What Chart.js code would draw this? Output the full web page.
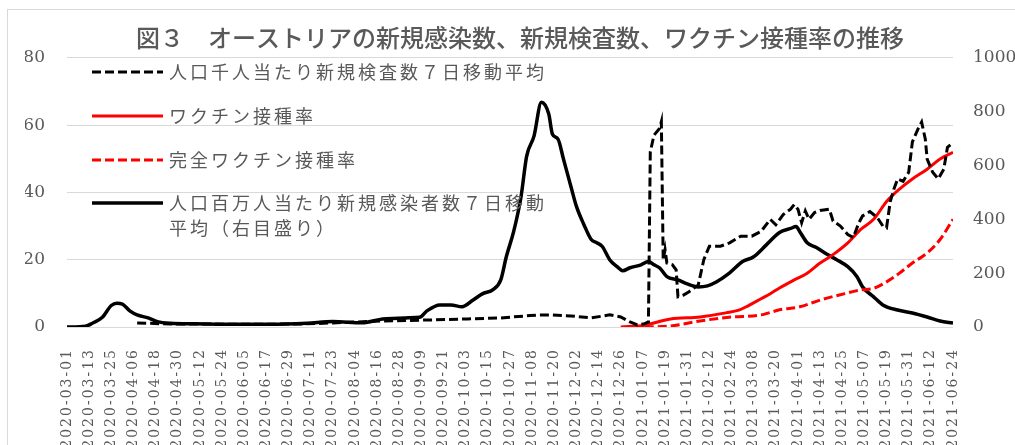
<!DOCTYPE html>
<html>
<head>
<meta charset="utf-8">
<script src="https://cdn.jsdelivr.net/npm/chart.js@4/dist/chart.umd.min.js"></script>
<style>
  html, body { margin: 0; padding: 0; background: #fff; }
  #wrap { position: relative; width: 1015px; height: 445px; overflow: hidden; }
</style>
</head>
<body>
<div id="wrap"><canvas id="chart"></canvas></div>
<script>
// ── data (x = days since 2020-03-01) ─────────────────────────────────
const titleText = "図３　オーストリアの新規感染数、新規検査数、ワクチン接種率の推移";

const tickLabels = [
  "2020-03-01", "2020-03-13", "2020-03-25", "2020-04-06", "2020-04-18", "2020-04-30",
  "2020-05-12", "2020-05-24", "2020-06-05", "2020-06-17", "2020-06-29", "2020-07-11",
  "2020-07-23", "2020-08-04", "2020-08-16", "2020-08-28", "2020-09-09", "2020-09-21",
  "2020-10-03", "2020-10-15", "2020-10-27", "2020-11-08", "2020-11-20", "2020-12-02",
  "2020-12-14", "2020-12-26", "2021-01-07", "2021-01-19", "2021-01-31", "2021-02-12",
  "2021-02-24", "2021-03-08", "2021-03-20", "2021-04-01", "2021-04-13", "2021-04-25",
  "2021-05-07", "2021-05-19", "2021-05-31", "2021-06-12", "2021-06-24",
];

// 人口千人当たり新規検査数７日移動平均 (left axis)
const testDays = [38, 56, 72, 99, 126, 144, 171, 198, 217, 235, 251, 256, 262, 273, 284, 294, 300, 305, 309, 313,
  315, 316, 318, 321, 322, 323, 324, 325, 328, 330, 331, 334, 337, 342, 345, 348, 354, 359, 365, 371,
  376, 381, 384, 388, 392, 394, 396, 398, 400, 402, 405, 408, 413, 415, 419, 423, 426, 429, 431, 435,
  439, 442, 444, 446, 448, 450, 453, 456, 458, 461, 463, 465, 466, 469, 472, 475, 477, 479];
const testValues = [1.2, 0.9, 0.9, 0.8, 0.9, 1.2, 1.8, 2.1, 2.4, 2.7, 3.4, 3.6, 3.6, 3.3, 2.7, 3.6, 3.0, 1.5, 0.6, 1.0,
  1.5, 52, 57, 59, 61, 20, 23, 19, 18.5, 17, 9, 9.5, 10.5, 12.5, 20, 24, 24, 25, 27, 27,
  28.4, 32, 30.4, 33.4, 35, 36.4, 35, 31, 34.5, 32, 34, 34.6, 35, 31.5, 30, 27.5, 26.6, 31, 33, 34.3,
  32.5, 30, 29.5, 37.3, 41, 44, 43.3, 46, 55, 58.8, 60.9, 55.8, 49.9, 46, 44, 46.9, 53.4, 54.3];

// ワクチン接種率 (left axis, %)
const vaxDays = [300, 313, 320, 327, 343, 357, 364, 369, 376, 381, 386, 394, 401, 408, 415, 423, 430, 437, 444, 451, 458, 466, 473, 480];
const vaxValues = [0, 0.5, 1.5, 2.4, 3.0, 4.2, 5.0, 6.3, 8.4, 9.9, 11.6, 14, 16, 19, 21.5, 25, 29, 32, 37.3, 41, 44, 46.9, 49.9, 51.9];

// 完全ワクチン接種率 (left axis, %)
const fullDays = [313, 327, 333, 343, 361, 366, 376, 379, 386, 397, 408, 419, 430, 437, 444, 451, 458, 466, 473, 480];
const fullValues = [0, 0.3, 0.8, 1.8, 3.0, 3.1, 3.6, 4.0, 5.1, 6.0, 8, 9.6, 11, 11.5, 13.4, 16, 19, 22, 26, 32];

// 人口百万人当たり新規感染者数７日移動平均 (right axis)
const caseDays = [0, 10, 14, 19, 24, 27, 30, 34, 38, 44, 49, 56, 70, 90, 110, 130, 144, 160, 171, 185,
  191, 195, 202, 208, 214, 220, 225, 231, 235, 238, 242, 246, 249, 253, 257, 261, 263, 266, 269, 273,
  276, 280, 284, 287, 290, 294, 298, 301, 305, 311, 315, 318, 321, 325, 331, 336, 342, 347, 352, 359,
  366, 372, 379, 386, 392, 395, 397, 401, 406, 412, 417, 423, 428, 431, 437, 442, 450, 458, 466, 473, 480];
const caseValues = [0, 3, 15, 35, 80, 88, 85, 60, 45, 34, 20, 14, 12, 10, 10, 14, 20, 16, 30, 34,
  36, 60, 82, 82, 75, 100, 123, 140, 175, 261, 355, 485, 634, 709, 835, 791, 716, 698, 623, 522,
  448, 381, 325, 313, 299, 250, 224, 209, 220, 231, 243, 231, 220, 187, 175, 160, 149, 153, 168, 201,
  243, 261, 306, 351, 366, 373, 354, 313, 295, 269, 250, 224, 187, 149, 112, 82, 63, 52, 37, 22, 15];

const toPoints = (xs, ys) => xs.map((x, i) => ({ x, y: ys[i] }));

const GRID = "#d9d9d9";
const TEXT = "#595959";

// ── frame + in-plot legend ────────────────────────────────────────────
const framePlugin = {
  id: "frame",
  beforeDraw(chart) {
    const ctx = chart.ctx;
    ctx.save();
    ctx.fillStyle = "#fff";
    ctx.fillRect(0, 0, chart.width, chart.height);
    ctx.strokeStyle = GRID;
    ctx.lineWidth = 1;
    ctx.strokeRect(7.5, 9.5, 1200, 600);
    ctx.restore();
  },
  afterDatasetsDraw(chart) {
    // x tick labels (ticks.z: 1) are drawn after this hook: spread the dates
    chart.ctx.letterSpacing = "2px";
  },
  afterDraw(chart) {
    const ctx = chart.ctx;
    ctx.letterSpacing = "0px";
    const rows = [72, 116, 160, 203];
    ctx.save();
    ctx.font = '18px "Noto Sans CJK JP"';
    ctx.letterSpacing = "3px";
    ctx.textBaseline = "middle";
    chart.data.datasets.forEach((ds, i) => {
      const y = rows[i];
      ctx.beginPath();
      ctx.strokeStyle = ds.borderColor;
      ctx.lineWidth = ds.borderWidth;
      ctx.setLineDash(ds.borderDash || []);
      ctx.moveTo(92, y);
      ctx.lineTo(163, y);
      ctx.stroke();
      ctx.setLineDash([]);
      ctx.fillStyle = TEXT;
      ds.legendLines.forEach((line, k) => ctx.fillText(line, 169, y + k * 25));
    });
    ctx.restore();
  },
};

new Chart(document.getElementById("chart"), {
  type: "line",
  data: {
    datasets: [
      {
        label: "人口千人当たり新規検査数７日移動平均",
        legendLines: ["人口千人当たり新規検査数７日移動平均"],
        data: toPoints(testDays, testValues),
        yAxisID: "y",
        borderColor: "#000000",
        borderWidth: 3,
        borderDash: [9, 4],
        pointRadius: 0,
        tension: 0,
      },
      {
        label: "ワクチン接種率",
        legendLines: ["ワクチン接種率"],
        data: toPoints(vaxDays, vaxValues),
        yAxisID: "y",
        borderColor: "#ff0000",
        borderWidth: 3,
        pointRadius: 0,
        cubicInterpolationMode: "monotone",
      },
      {
        label: "完全ワクチン接種率",
        legendLines: ["完全ワクチン接種率"],
        data: toPoints(fullDays, fullValues),
        yAxisID: "y",
        borderColor: "#ff0000",
        borderWidth: 3,
        borderDash: [9, 4],
        pointRadius: 0,
        cubicInterpolationMode: "monotone",
      },
      {
        label: "人口百万人当たり新規感染者数７日移動平均（右目盛り）",
        legendLines: ["人口百万人当たり新規感染者数７日移動", "平均（右目盛り）"],
        data: toPoints(caseDays, caseValues),
        yAxisID: "y1",
        borderColor: "#000000",
        borderWidth: 3.5,
        pointRadius: 0,
        cubicInterpolationMode: "monotone",
      },
    ],
  },
  options: {
    responsive: true,
    maintainAspectRatio: false,
    animation: false,
    events: [],
    layout: { padding: { left: 25, right: 0, top: 9, bottom: 0 } },
    plugins: {
      legend: { display: false },
      tooltip: { enabled: false },
      title: {
        display: true,
        text: titleText,
        color: TEXT,
        font: { family: '"Noto Sans CJK JP"', size: 24, weight: 500 },
        padding: { top: 14, bottom: 6 },
      },
    },
    scales: {
      x: {
        type: "linear",
        min: 0,
        max: 480,
        grid: { display: false },
        border: { display: false },
        ticks: {
          z: 1,
          stepSize: 12,
          maxTicksLimit: 41,
          autoSkip: false,
          minRotation: 90,
          maxRotation: 90,
          padding: 13,
          color: TEXT,
          font: { family: '"DejaVu Serif"', size: 14 },
          callback: v => tickLabels[Math.round(v / 12)],
        },
        afterFit: s => { s.height = 118; },
      },
      y: {
        position: "left",
        min: 0,
        max: 80,
        grid: { color: GRID, lineWidth: 1, drawTicks: false },
        border: { display: false },
        ticks: {
          stepSize: 20,
          padding: 22,
          color: TEXT,
          font: { family: '"DejaVu Serif"', size: 17 },
        },
        afterFit: s => { s.width = 42; },
      },
      y1: {
        position: "right",
        min: 0,
        max: 1000,
        grid: { display: false, drawTicks: false },
        border: { display: false },
        ticks: {
          stepSize: 200,
          padding: 20,
          color: TEXT,
          format: { useGrouping: false },
          font: { family: '"DejaVu Serif"', size: 17 },
        },
        afterFit: s => { s.width = 62; },
      },
    },
  },
  plugins: [framePlugin],
});
</script>
</body>
</html>
